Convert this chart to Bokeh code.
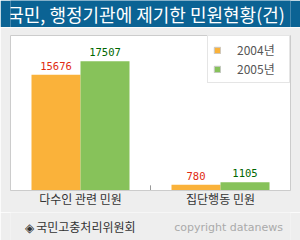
from bokeh.plotting import figure
from bokeh.models import ColumnDataSource, FactorRange, Range1d, Label, Legend, LegendItem
from bokeh.transform import dodge
from bokeh.layouts import column
from bokeh.core.properties import value
from bokeh.embed import file_html
from bokeh.resources import INLINE

title_text = "국민, 행정기관에 제기한 민원현황(건)"
categories = ["다수인 관련 민원", "집단행동 민원"]
years = ["2004년", "2005년"]
v2004 = [15676, 780]
v2005 = [17507, 1105]
source_text = "◈ 국민고충처리위원회"
credit_text = "copyright datanews"

BLUE = "#0b6394"
BG = "#eeeeee"
ORANGE = "#fab23a"
GREEN = "#87c25a"
KR = "Noto Sans CJK KR"

src = ColumnDataSource(dict(cat=categories, v2004=v2004, v2005=v2005,
                            zero=[0] * len(categories),
                            t2004=[str(v) for v in v2004], t2005=[str(v) for v in v2005]))


def strip(height, color):
    f = figure(width=300, height=height, x_range=Range1d(0, 300), y_range=Range1d(0, height),
               output_backend="svg", toolbar_location=None,
               min_border=0, min_border_left=0, min_border_right=0,
               min_border_top=0, min_border_bottom=0,
               x_axis_location=None, y_axis_location=None,
               background_fill_color=color, border_fill_color=color, outline_line_color=None)
    f.grid.visible = False
    return f


# title bar
t = strip(27, BLUE)
t.add_layout(Label(x=294, y=14, text=title_text, text_align="right",
                   text_color="white", text_font_size="18px", text_font=KR,
                   text_baseline="middle"))

p = figure(x_range=FactorRange(*categories, range_padding=0), y_range=Range1d(0, 21000),
           width=300, height=185, output_backend="svg", toolbar_location=None,
           y_axis_location=None,
           min_border_left=10, min_border_right=10, min_border_top=8, min_border_bottom=22,
           background_fill_color="white", border_fill_color=BG, outline_line_color="#cccccc")
p.grid.visible = False

w = 0.35
p.vbar(x=dodge("cat", -w / 2, range=p.x_range), top="v2004", width=w, source=src,
       fill_color=ORANGE, line_color=None)
p.vbar(x=dodge("cat", w / 2, range=p.x_range), top="v2005", width=w, source=src,
       fill_color=GREEN, line_color=None)

p.text(x=dodge("cat", -w / 2, range=p.x_range), y="v2004", text="t2004", source=src,
       text_align="center", text_baseline="bottom", y_offset=-5,
       text_font=value("DejaVu Sans Mono"), text_font_size="10.5px", text_color="#e02a10")
p.text(x=dodge("cat", w / 2, range=p.x_range), y="v2005", text="t2005", source=src,
       text_align="center", text_baseline="bottom", y_offset=-5,
       text_font=value("DejaVu Sans Mono"), text_font_size="10.5px", text_color="#006600")

# small separator tick between categories
p.segment(x0=[(categories[1], -0.5)], x1=[(categories[1], -0.5)], y0=[0], y1=[700],
          line_color="#999999", line_width=1)

# legend proxies (zero-height bars, only their legend swatch is visible)
l1 = p.vbar(x="cat", top="zero", bottom="zero", width=0.01, source=src,
            fill_color=ORANGE, line_color="#c8c8c8")
l2 = p.vbar(x="cat", top="zero", bottom="zero", width=0.01, source=src,
            fill_color=GREEN, line_color="#c8c8c8")
legend = Legend(items=[LegendItem(label=years[0], renderers=[l1]),
                       LegendItem(label=years[1], renderers=[l2])],
                location="top_right", margin=0, padding=5, spacing=2,
                glyph_width=8, glyph_height=8, label_standoff=16,
                label_height=17, label_width=47,
                label_text_font=KR, label_text_font_size="12px", label_text_color="#555555",
                border_line_color="#cccccc", background_fill_color="white",
                background_fill_alpha=1)
p.add_layout(legend)

ax = p.xaxis[0]
ax.axis_line_color = "#cccccc"
ax.major_tick_line_color = None
ax.minor_tick_line_color = None
ax.major_label_standoff = -7
ax.major_label_text_font = KR
ax.major_label_text_font_size = "12px"
ax.major_label_text_color = "#333333"

# footer
f = strip(28, BG)
f.add_layout(Label(x=134, y=14, text=source_text, text_align="right",
                   text_font=KR, text_font_size="12px", text_color="#333333",
                   text_baseline="middle"))
f.add_layout(Label(x=292, y=13, text=credit_text,
                   text_font="DejaVu Sans", text_font_size="11px", text_color="#aaaaaa",
                   text_baseline="middle", text_align="right"))

layout = column(t, p, f, spacing=0)
open("out.html", "w").write(file_html(layout, INLINE))
